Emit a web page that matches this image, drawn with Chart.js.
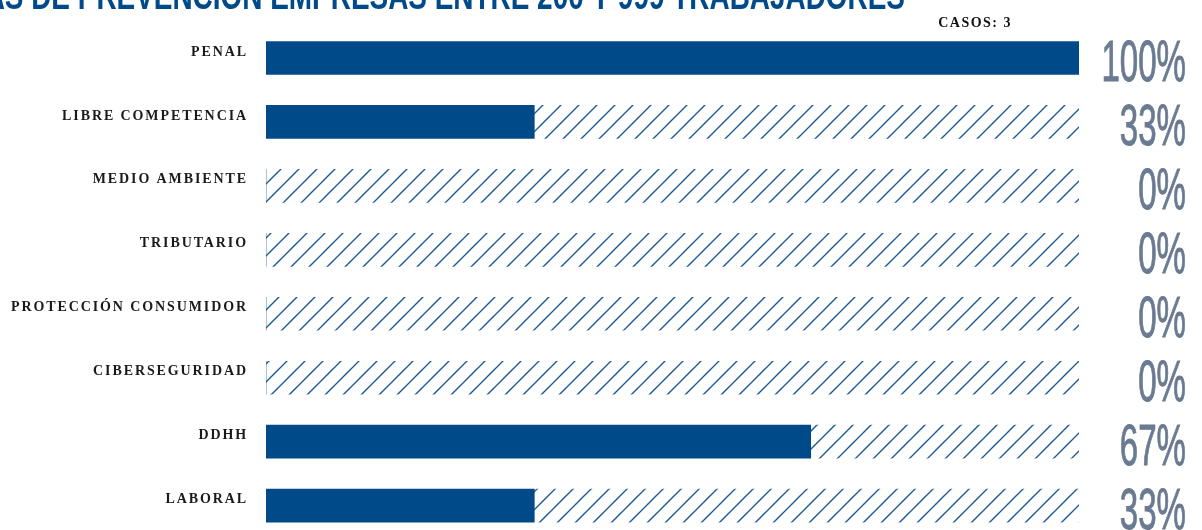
<!DOCTYPE html>
<html>
<head>
<meta charset="utf-8">
<script src="https://cdn.jsdelivr.net/npm/chart.js@4"></script>
<style>
  html, body { margin: 0; padding: 0; background: #fff; overflow: hidden; }
  #wrap { position: relative; width: 1202px; height: 556px; }
  #grafico { width: 1202px; height: 556px; display: block; }
</style>
</head>
<body>
<div id="wrap"><canvas id="grafico" width="1202" height="556"></canvas></div>
<script>
const categorias = ['PENAL', 'LIBRE COMPETENCIA', 'MEDIO AMBIENTE', 'TRIBUTARIO', 'PROTECCIÓN CONSUMIDOR', 'CIBERSEGURIDAD', 'DDHH', 'LABORAL'];
const porcentajes = [100, 33, 0, 0, 0, 0, 67, 33];
const resto = [0, 67, 100, 100, 100, 100, 33, 67];
const titulo = 'PROGRAMAS DE PREVENCIÓN EMPRESAS ENTRE 200 Y 999 TRABAJADORES';
const casos = 'CASOS: 3';

const azul = '#004a8a';

function rayado() {
    const c = document.createElement('canvas');
    c.width = 18; c.height = 18;
    const g = c.getContext('2d');
    g.strokeStyle = '#1a5a98';
    g.lineWidth = 1.4;
    g.beginPath();
    g.moveTo(-2, 20); g.lineTo(20, -2);
    g.moveTo(-2, 2); g.lineTo(2, -2);
    g.moveTo(16, 20); g.lineTo(20, 16);
    g.stroke();
    return g.createPattern(c, 'repeat');
}

const textos = {
    id: 'textos',
    beforeDraw(chart) {
        chart.ctx.letterSpacing = '1.9px';
    },
    afterDraw(chart) {
        const ctx = chart.ctx;
        const y = chart.scales.y;
        ctx.save();
        ctx.letterSpacing = '0px';
        // titulo cortado arriba
        ctx.fillStyle = azul;
        ctx.textAlign = 'right';
        ctx.textBaseline = 'alphabetic';
        ctx.font = 'bold 38px "Liberation Sans"';
        ctx.save();
        ctx.translate(905, 9);
        ctx.scale(0.735, 1);
        ctx.fillText(titulo, 0, 0);
        ctx.restore();

        ctx.fillStyle = '#111';
        ctx.letterSpacing = '1.5px';
        ctx.font = 'bold 14px "Liberation Serif"';
        ctx.fillText(casos, 1012, 27);

        ctx.letterSpacing = '0px';
        ctx.fillStyle = '#6a7b91';
        ctx.font = '58px "Liberation Sans"';
        porcentajes.forEach((v, i) => {
            const py = y.getPixelForValue(i);
            ctx.save();
            ctx.translate(1186, py + 23);
            ctx.scale(0.57, 1);
            ctx.lineWidth = 1;
            ctx.strokeStyle = '#6a7b91';
            ctx.strokeText(v + '%', 0, 0);
            ctx.fillText(v + '%', 0, 0);
            ctx.restore();
        });
        ctx.restore();
    }
};

const ctx = document.getElementById('grafico').getContext('2d');
new Chart(ctx, {
    type: 'bar',
    data: {
        labels: categorias,
        datasets: [{
            data: porcentajes,
            backgroundColor: azul,
            barThickness: 33
        }, {
            data: resto,
            backgroundColor: rayado(),
            barThickness: 33
        }]
    },
    options: {
        indexAxis: 'y',
        responsive: false,
        animation: false,
        layout: { padding: { top: 26, right: 123, bottom: 7, left: 0 } },
        plugins: { legend: { display: false }, tooltip: { enabled: false } },
        scales: {
            x: { display: false, stacked: true, min: 0, max: 100 },
            y: {
                stacked: true,
                grid: { display: false },
                border: { display: false },
                afterFit(s) { s.width = 266; },
                ticks: {
                    padding: 10,
                    labelOffset: -6,
                    color: '#1a1a1a',
                    font: { family: '"Liberation Serif"', size: 14, weight: 'bold' }
                }
            }
        }
    },
    plugins: [textos]
});
</script>
</body>
</html>
